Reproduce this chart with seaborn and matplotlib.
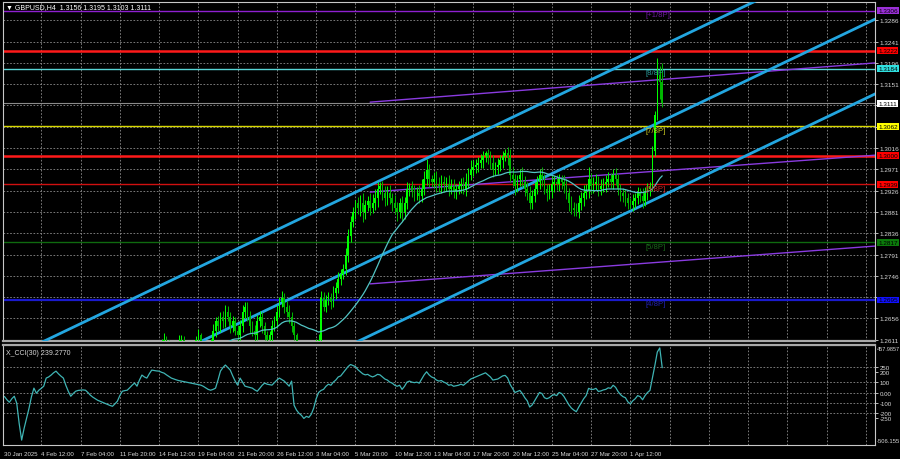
import numpy as np
import matplotlib
matplotlib.use("Agg")
import matplotlib.pyplot as plt
import seaborn as sns
from matplotlib.transforms import blended_transform_factory

sns.set_theme(style="dark")
plt.rcParams['font.family'] = ['Liberation Sans', 'DejaVu Sans']

# ---------------- data (prices in 1/10000) ----------------
first_open = 12440
closes = [
    12430, 12420, 12410, 12400, 12390, 12395,
    12300, 12260, 12330, 12370, 12400, 12410,
    12430, 12450, 12470, 12460, 12480, 12475,
    12490, 12500, 12520, 12510, 12500, 12490,
    12470, 12450, 12380, 12400, 12410, 12420,
    12415, 12410, 12400, 12380, 12360, 12370,
    12360, 12350, 12370, 12380, 12370, 12375,
    12360, 12380, 12400, 12420, 12430, 12440,
    12450, 12420, 12440, 12460, 12470, 12480,
    12500, 12520, 12540, 12550, 12560, 12570,
    12580, 12570, 12560, 12575, 12600, 12610,
    12595, 12600, 12590, 12585, 12595, 12605,
    12610, 12600, 12590, 12580, 12595, 12600,
    12610, 12620, 12600, 12580, 12560, 12570,
    12600, 12630, 12650, 12640, 12660, 12650,
    12670, 12660, 12640, 12650, 12630, 12620,
    12640, 12670, 12680, 12660, 12640, 12630,
    12620, 12650, 12660, 12640, 12620, 12610,
    12620, 12640, 12650, 12670, 12690, 12700,
    12680, 12670, 12660, 12640, 12620, 12600,
    12580, 12570, 12580, 12575, 12560, 12580,
    12590, 12600, 12610, 12700, 12680, 12695,
    12700, 12690, 12710, 12720, 12740, 12750,
    12760, 12790, 12830, 12860, 12880, 12900,
    12890, 12900, 12880, 12895, 12905, 12890,
    12900, 12910, 12930, 12935, 12920, 12910,
    12920, 12910, 12900, 12890, 12880, 12900,
    12880, 12900, 12930, 12935, 12925, 12920,
    12920, 12915, 12930, 12950, 12970, 12950,
    12945, 12950, 12940, 12935, 12945, 12940,
    12940, 12930, 12935, 12925, 12930, 12935,
    12940, 12930, 12945, 12960, 12970, 12975,
    12980, 12985, 12990, 13000, 13005, 12995,
    12985, 12970, 12975, 12980, 12990, 13000,
    13005, 12995, 12960, 12950, 12935, 12950,
    12960, 12945, 12930, 12920, 12900, 12915,
    12930, 12945, 12960, 12950, 12930, 12920,
    12925, 12940, 12945, 12940, 12950, 12945,
    12935, 12920, 12900, 12890, 12885, 12880,
    12900, 12910, 12920, 12925, 12950, 12935,
    12940, 12945, 12930, 12935, 12940, 12945,
    12950, 12945, 12960, 12950, 12930, 12920,
    12915, 12910, 12900, 12895, 12905, 12910,
    12920, 12915, 12905, 12920, 12930, 12935,
    13010, 13085, 13170, 13156, 13111,
]
wick_up = [
    10, 8, 6, 8, 10, 6,
    15, 20, 12, 10, 8, 6,
    10, 8, 12, 10, 8, 6,
    8, 10, 12, 6, 8, 10,
    6, 10, 20, 8, 6, 5,
    8, 10, 6, 8, 6, 5,
    6, 8, 10, 6, 5, 6,
    8, 10, 6, 8, 6, 5,
    10, 8, 6, 10, 8, 6,
    8, 10, 6, 8, 5, 6,
    10, 8, 6, 10, 12, 15,
    8, 10, 6, 8, 6, 16,
    10, 8, 6, 8, 10, 6,
    8, 14, 6, 5, 8, 10,
    12, 14, 10, 12, 9, 12,
    14, 12, 10, 12, 10, 12,
    12, 14, 11, 10, 12, 10,
    12, 14, 11, 10, 8, 10,
    10, 12, 12, 14, 12, 14,
    10, 12, 14, 10, 8, 6,
    8, 10, 8, 6, 8, 6,
    10, 12, 14, 15, 12, 10,
    12, 10, 14, 12, 14, 10,
    10, 14, 16, 12, 12, 6,
    12, 16, 20, 12, 10, 15,
    18, 20, 14, 9, 12, 15,
    15, 18, 12, 16, 12, 10,
    14, 12, 14, 8, 12, 12,
    14, 18, 20, 18, 23, 12,
    10, 15, 18, 14, 15, 12,
    14, 18, 15, 16, 10, 12,
    12, 15, 18, 14, 20, 16,
    12, 12, 14, 10, 5, 10,
    14, 16, 12, 15, 12, 10,
    9, 14, 18, 15, 12, 10,
    12, 15, 12, 14, 16, 12,
    14, 12, 12, 15, 12, 10,
    14, 16, 12, 15, 12, 10,
    14, 16, 12, 15, 12, 14,
    16, 14, 18, 14, 25, 14,
    14, 16, 12, 15, 12, 14,
    16, 14, 12, 14, 12, 10,
    12, 14, 12, 10, 14, 12,
    14, 12, 16, 14, 12, 10,
    10, 10, 37, 20, 39,
]
wick_dn = [
    8, 10, 6, 8, 10, 6,
    60, 25, 10, 8, 6, 8,
    6, 8, 10, 8, 6, 10,
    8, 6, 10, 8, 10, 6,
    10, 8, 30, 6, 8, 6,
    6, 8, 10, 8, 6, 10,
    8, 6, 10, 8, 6, 5,
    10, 8, 6, 8, 10, 6,
    8, 25, 6, 8, 6, 10,
    6, 8, 10, 6, 8, 6,
    8, 10, 6, 8, 6, 5,
    6, 8, 10, 8, 6, 5,
    8, 10, 6, 8, 10, 6,
    6, 8, 10, 8, 10, 6,
    10, 12, 14, 10, 12, 14,
    12, 10, 14, 12, 10, 14,
    10, 12, 14, 10, 14, 12,
    14, 10, 12, 14, 10, 12,
    10, 12, 10, 14, 12, 10,
    12, 10, 14, 12, 10, 14,
    10, 8, 6, 10, 12, 8,
    8, 6, 10, 6, 8, 10,
    10, 14, 10, 12, 10, 14,
    10, 12, 14, 12, 10, 14,
    14, 18, 20, 14, 12, 16,
    12, 14, 18, 12, 14, 16,
    14, 12, 16, 14, 18, 12,
    18, 14, 12, 16, 12, 16,
    14, 16, 12, 14, 12, 16,
    12, 14, 16, 12, 14, 16,
    14, 16, 12, 14, 16, 12,
    14, 12, 16, 14, 12, 14,
    12, 14, 12, 16, 14, 12,
    14, 16, 12, 14, 12, 16,
    12, 14, 16, 14, 18, 12,
    14, 12, 16, 14, 13, 12,
    14, 12, 16, 14, 12, 16,
    12, 14, 16, 12, 14, 16,
    14, 12, 16, 14, 12, 8,
    12, 14, 16, 12, 14, 16,
    14, 12, 16, 14, 12, 16,
    12, 14, 16, 12, 14, 16,
    14, 16, 12, 8, 12, 16,
    12, 14, 16, 12, 14, 16,
    10, 10, 10, 36, 8,
]
cci = [
    -39, -70, -94, -60, -36, -104,
    -300, -459, -346, -250, -152, -40,
    42, -7, 22, 40, 61, 139,
    150, 168, 190, 206, 180, 158,
    139, 70, 12, -36, -10, 12,
    20, 22, 25, 22, 0, -26,
    -45, -60, -75, -85, -95, -104,
    -115, -125, -133, -110, -84, -30,
    12, 18, 22, 45, 70, 91,
    61, 120, 168, 150, 139, 180,
    216, 212, 208, 206, 195, 187,
    170, 155, 139, 130, 122, 115,
    110, 105, 100, 95, 91, 85,
    80, 75, 71, 60, 45, 30,
    22, 30, 42, 120, 206, 240,
    265, 240, 216, 160, 110, 71,
    139, 100, 61, 55, 48, 42,
    25, 12, 40, 70, 91, 80,
    75, 71, 95, 120, 139, 125,
    110, 85, 61, 110, -123, -170,
    -200, -220, -250, -230, -240, -210,
    -150, -60, 0, 20, 30, 60,
    80, 70, 100, 120, 150, 160,
    190, 220, 250, 270, 260, 250,
    220, 200, 180, 170, 175, 160,
    150, 160, 175, 170, 150, 130,
    120, 100, 90, 70, 60, 70,
    30, 60, 100, 110, 100, 95,
    100, 90, 130, 170, 200, 170,
    150, 140, 120, 110, 115, 100,
    90, 70, 75, 60, 65, 70,
    80, 70, 90, 110, 130, 140,
    150, 160, 170, 180, 190, 170,
    150, 120, 125, 130, 145, 160,
    165, 140, 80, 40, 0, 10,
    20, -10, -50, -80, -140, -120,
    -80, -40, 0, -10, -50, -60,
    -50, -30, -20, -30, 0, -10,
    -40, -80, -120, -150, -170, -185,
    -140, -100, -60, -30, 40, 30,
    30, 40, 10, 15, 25, 30,
    45, 40, 70, 50, 10, -20,
    -40, -50, -90, -110, -80, -60,
    -30, -40, -70, -30, 0, 20,
    140, 260, 390, 430, 239.277,
]
ma_period = 30

date_labels = ["30 Jan 2025", "4 Feb 12:00", "7 Feb 04:00", "11 Feb 20:00", "14 Feb 12:00",
               "19 Feb 04:00", "21 Feb 20:00", "26 Feb 12:00", "3 Mar 04:00", "5 Mar 20:00",
               "10 Mar 12:00", "13 Mar 04:00", "17 Mar 20:00", "20 Mar 12:00", "25 Mar 04:00",
               "27 Mar 20:00", "1 Apr 12:00"]
date_bars = [0, 15, 31, 47, 63, 79, 95, 111, 127, 143, 159, 175, 191, 207, 223, 239, 255]

price_grid = [1.2611, 1.2656, 1.2701, 1.2746, 1.2791, 1.2836, 1.2881, 1.2926, 1.2971,
              1.3016, 1.3061, 1.3106, 1.3151, 1.3196, 1.3241, 1.3286]
price_grid_labels = ["1.2611", "1.2656", "", "1.2746", "1.2791", "1.2836", "1.2881", "1.2926",
                     "1.2971", "1.3016", "", "", "1.3151", "1.3196", "1.3241", "1.3286"]

levels = [1.3306, 1.3222, 1.3184, 1.3111, 1.3062, 1.3000, 1.2939, 1.2817, 1.2695]
level_colors = ["#8e1fd0", "#ff1a1a", "#58d6d6", "#8a8a8a", "#d8d800", "#ff1a1a", "#d01010", "#0f6a0f", "#1a1acd"]
level_widths = [1.0, 1.8, 1.0, 0.8, 1.0, 1.8, 1.0, 1.0, 1.6]
level_boxes = ["#9b30d8", "#ff0000", "#30e0e0", "#ffffff", "#ffff00", "#ff0000", "#ff0000", "#0b7a0b", "#1010ff"]

murray_text = ["[+1/8P]", "[8/8P]", "[7/8P]", "[6/8P]", "[5/8P]", "[4/8P]"]
murray_vals = [1.3306, 1.3184, 1.3062, 1.2939, 1.2817, 1.2695]
murray_cols = ["#6a1b9a", "#2a9a9a", "#c8c820", "#d02020", "#1a6a1a", "#2222b0"]
murray_bar = 261

chan_bars = [0, 355]
chan_upper = [1.2568, 1.3448]
chan_mid = [1.2409, 1.3289]
chan_low = [1.2250, 1.3131]
reg_bars = [149, 355]
reg_upper = [1.3113, 1.3196]
reg_mid = [1.2923, 1.3001]
reg_low = [1.2729, 1.2809]

header = "GBPUSD,H4  1.3156 1.3195 1.3103 1.3111"
cci_header = "X_CCI(30) 239.2770"
cci_ticks = [250, 200, 100, 0, -100, -200, -250]
cci_tick_labels = ["250", "200", "100", "0.00", "-100", "-200", "-250"]
cci_grid = [250, 100, 0, -100, -200]
cci_max, cci_min = 457.9857, -506.155

# ---------------- derived ----------------
c = np.array(closes) / 1e4
o = np.r_[first_open / 1e4, c[:-1]]
hi = np.maximum(o, c) + np.array(wick_up) / 1e4
lo = np.minimum(o, c) - np.array(wick_dn) / 1e4
idx = np.arange(len(c))
ma = np.convolve(c, np.ones(ma_period) / ma_period, mode="full")[:len(c)]
ma[:ma_period - 1] = np.nan

BG = "black"
GRID = "#8c8c8c"
TXT = "#d8d8d8"
FS = 5.0
AX_FS = 4.6
W, H = 900, 460
fig = plt.figure(figsize=(9, 4.6), dpi=100, facecolor=BG)
ax = fig.add_axes([3 / W, 1 - 342 / H, 872 / W, 339 / H])
axc = fig.add_axes([3 / W, 1 - 446 / H, 872 / W, 100 / H], sharex=ax)
XL = (-0.6, 354.7)

for a in (ax, axc):
    a.set_facecolor(BG)
    for s in a.spines.values():
        s.set_color("#c8c8c8")
        s.set_linewidth(0.8)
ax.spines["bottom"].set_linewidth(1.6)
ax.spines["bottom"].set_color("#a8a8a8")
axc.spines["top"].set_linewidth(1.6)
axc.spines["top"].set_color("#a8a8a8")

ax.set_xlim(*XL)
ax.set_ylim(1.26083, 1.33246)
axc.set_ylim(cci_min, cci_max)

step = date_bars[2] - date_bars[1]
vgrid = list(date_bars[1:]) + list(range(date_bars[-1] + step, int(XL[1]), step))
for a in (ax, axc):
    for g in vgrid:
        a.axvline(g, color=GRID, lw=0.6, dashes=(2, 2), zorder=0)
for p in price_grid:
    ax.axhline(p, color=GRID, lw=0.6, dashes=(2, 2), zorder=0)
for p in cci_grid:
    axc.axhline(p, color=GRID, lw=0.6, dashes=(2, 2), zorder=0)

for v, col, lw in zip(levels, level_colors, level_widths):
    ax.axhline(v, color=col, lw=lw, zorder=1)

for yy in (chan_upper, chan_mid, chan_low):
    sns.lineplot(x=chan_bars, y=yy, ax=ax, color="#23a6e0", lw=2.0, legend=False, zorder=3)
for yy in (reg_upper, reg_mid, reg_low):
    sns.lineplot(x=reg_bars, y=yy, ax=ax, color="#8a3be0", lw=1.0, legend=False, zorder=2)

up = c >= o
cols = np.where(up, "#00ff00", "#00b800")
ax.vlines(idx, lo, hi, colors=cols, lw=0.7, zorder=4)
body = np.where(np.abs(c - o) < 0.00003, 0.00003, c - o)
ax.bar(idx, body, bottom=o, width=0.65, color=cols, linewidth=0, zorder=4)

sns.lineplot(x=idx, y=ma, ax=ax, color="#52c4c4", lw=0.9, legend=False, zorder=5)

for t, v, col in zip(murray_text, murray_vals, murray_cols):
    ax.text(murray_bar, v - 0.0001, t, color=col, fontsize=5.6, va="top", ha="left", zorder=6)

ax.text(0.004, 0.996, "\u25bc " + header, transform=ax.transAxes, color="white",
        fontsize=FS, va="top", ha="left")

ax.yaxis.tick_right()
ax.set_yticks(price_grid)
ax.set_yticklabels(price_grid_labels)
ax.tick_params(axis="y", colors=TXT, labelsize=AX_FS, length=2, pad=1.2, width=0.6)
ax.tick_params(axis="x", bottom=False, labelbottom=False)
tr = blended_transform_factory(ax.transAxes, ax.transData)
for v, bc in zip(levels, level_boxes):
    ax.text(1.0035, v, f"{v:.4f}", transform=tr, fontsize=AX_FS, color="black", va="center", ha="left",
            bbox=dict(boxstyle="square,pad=0.15", fc=bc, ec="none"), clip_on=False, zorder=10)

sns.lineplot(x=idx, y=cci, ax=axc, color="#3fb4b4", lw=0.9, legend=False)
axc.yaxis.tick_right()
axc.set_yticks(cci_ticks)
axc.set_yticklabels(cci_tick_labels)
axc.tick_params(axis="y", colors=TXT, labelsize=4.4, length=2, pad=1.2, width=0.6)
axc.text(1.002, 0.985, f"{cci_max:.4f}", transform=axc.transAxes, fontsize=4.0, color=TXT,
         va="top", ha="left")
axc.text(1.002, 0.02, f"{cci_min:.3f}", transform=axc.transAxes, fontsize=4.2, color=TXT,
         va="bottom", ha="left")
axc.text(0.004, 0.96, cci_header, transform=axc.transAxes, color=TXT, fontsize=FS,
         va="top", ha="left")
axc.set_xticks(date_bars)
axc.set_xticklabels(date_labels, ha="left")
axc.tick_params(axis="x", colors=TXT, labelsize=4.4, length=3, pad=1.5, width=0.6)
axc.set_xlim(*XL)
for a in (ax, axc):
    a.set_xlabel("")
    a.set_ylabel("")
    a.grid(False)

fig.savefig("out.png", dpi=100, facecolor=BG)
